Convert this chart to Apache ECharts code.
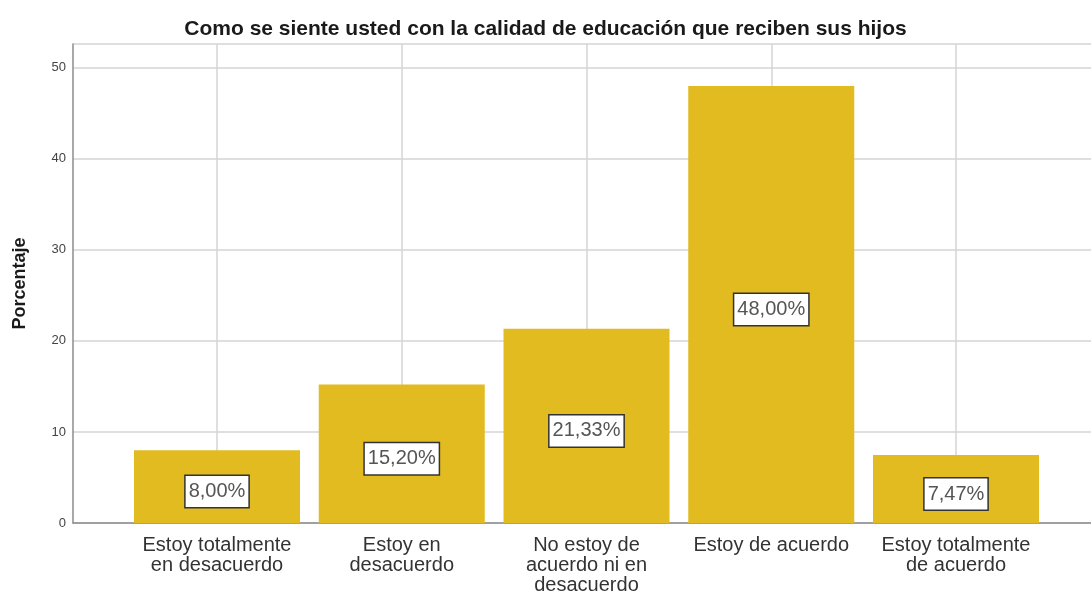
<!DOCTYPE html>
<html>
<head>
<meta charset="utf-8">
<script src="https://cdn.jsdelivr.net/npm/echarts@6/dist/echarts.min.js"></script>
<style>
  html, body { margin: 0; padding: 0; background: #fff; }
  #chart { width: 1091px; height: 596px; }
</style>
</head>
<body>
<div id="chart"></div>
<script>
  const categories = [
    'Estoy totalmente\nen desacuerdo',
    'Estoy en\ndesacuerdo',
    'No estoy de\nacuerdo ni en\ndesacuerdo',
    'Estoy de acuerdo',
    'Estoy totalmente\nde acuerdo'
  ]
  const porcentaje = [8.00, 15.20, 21.33, 48.00, 7.47]
  const yTicks = [0, 10, 20, 30, 40, 50]

  const chart = echarts.init(document.getElementById('chart'))
  const yMax = 52.6
  const gridTop = 44
  const gridBottom = 73

  const option = {
    animation: false,
    textStyle: { fontFamily: 'Liberation Sans, Arial, sans-serif' },
    title: {
      text: 'Como se siente usted con la calidad de educación que reciben sus hijos',
      left: 'center',
      top: 14,
      textStyle: { fontSize: 21, fontWeight: 'bold', color: '#1a1a1a' }
    },
    grid: [
      // full plot frame: y axis, horizontal grid lines, base line
      { left: 73, right: 0, top: gridTop, bottom: gridBottom },
      // category positions (centres at the vertical grid lines)
      { left: 217, right: 1091 - 956, top: gridTop, bottom: gridBottom }
    ],
    xAxis: [
      {
        gridIndex: 0,
        type: 'value',
        min: 0,
        max: 1,
        axisLine: { show: true, lineStyle: { color: '#8c8c8c', width: 1.5 } },
        axisTick: { show: false },
        axisLabel: { show: false },
        splitLine: { show: false }
      },
      {
        gridIndex: 1,
        type: 'category',
        boundaryGap: false,
        data: categories,
        axisLine: { show: false },
        axisTick: { show: false },
        axisLabel: {
          color: '#333',
          fontSize: 20,
          lineHeight: 20,
          margin: 12,
          interval: 0
        },
        splitLine: { show: true, lineStyle: { color: '#d4d4d4', width: 1.5 } }
      }
    ],
    yAxis: [
      {
        gridIndex: 0,
        type: 'value',
        min: 0,
        max: yMax,
        interval: 10,
        name: 'Porcentaje',
        nameLocation: 'middle',
        nameGap: 44,
        nameTextStyle: { fontSize: 18, fontWeight: 'bold', color: '#1a1a1a' },
        axisLine: { show: true, lineStyle: { color: '#8c8c8c', width: 1.5 } },
        axisTick: { show: false },
        axisLabel: {
          color: '#444',
          fontSize: 13,
          margin: 7,
          formatter: v => (yTicks.includes(v) ? String(v) : '')
        },
        splitLine: { show: true, lineStyle: { color: '#d4d4d4', width: 1.5 } }
      },
      {
        gridIndex: 1,
        type: 'value',
        min: 0,
        max: yMax,
        interval: 10,
        show: false,
        splitLine: { show: false }
      }
    ],
    series: [
      {
        name: 'Porcentaje',
        type: 'bar',
        xAxisIndex: 1,
        yAxisIndex: 1,
        clip: false,
        barWidth: 166,
        data: porcentaje,
        itemStyle: { color: '#e1bb1f' },
        label: {
          show: true,
          position: 'inside',
          offset: [0, 5],
          formatter: p => p.value.toFixed(2).replace('.', ',') + '%',
          color: '#555',
          fontSize: 20,
          backgroundColor: '#fff',
          borderColor: '#333',
          borderWidth: 1.5,
          padding: [6, 3, 5, 3]
        }
      }
    ]
  }

  chart.setOption(option)
  window.addEventListener('resize', () => chart.resize())
</script>
</body>
</html>
